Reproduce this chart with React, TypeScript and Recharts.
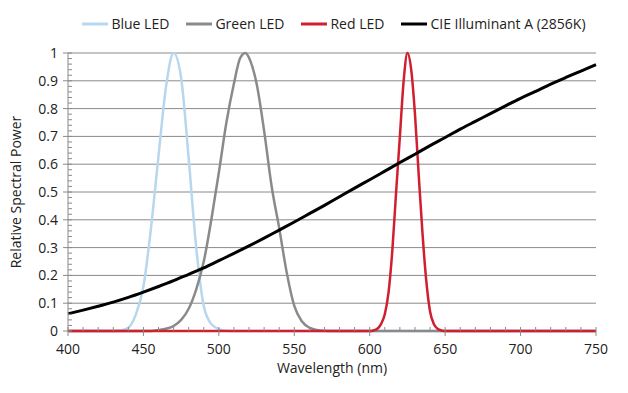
import React from 'react';
import { CartesianGrid, Legend, Line, LineChart, XAxis, YAxis } from 'recharts';

// wavelength (nm) -> relative power
const blueLed = [
  { wl: 400, v: 0 }, { wl: 430, v: 0 }, { wl: 435, v: 0.002 }, { wl: 440, v: 0.012 },
  { wl: 445, v: 0.06 }, { wl: 450, v: 0.16 }, { wl: 455, v: 0.37 }, { wl: 460, v: 0.63 },
  { wl: 465, v: 0.88 }, { wl: 470, v: 1.0 }, { wl: 475, v: 0.91 }, { wl: 480, v: 0.62 },
  { wl: 485, v: 0.3 }, { wl: 490, v: 0.09 }, { wl: 495, v: 0.025 }, { wl: 500, v: 0.007 },
  { wl: 505, v: 0.001 }, { wl: 510, v: 0 }, { wl: 750, v: 0 },
];

const greenLed = [
  { wl: 400, v: 0 }, { wl: 455, v: 0 }, { wl: 460, v: 0.003 }, { wl: 465, v: 0.008 },
  { wl: 470, v: 0.018 }, { wl: 475, v: 0.04 }, { wl: 480, v: 0.08 }, { wl: 485, v: 0.15 },
  { wl: 490, v: 0.25 }, { wl: 495, v: 0.4 }, { wl: 500, v: 0.57 }, { wl: 505, v: 0.75 },
  { wl: 510, v: 0.89 }, { wl: 514, v: 0.98 }, { wl: 517.5, v: 1.0 }, { wl: 521, v: 0.97 },
  { wl: 525, v: 0.89 }, { wl: 530, v: 0.72 }, { wl: 535, v: 0.52 }, { wl: 540, v: 0.37 },
  { wl: 545, v: 0.21 }, { wl: 550, v: 0.09 }, { wl: 555, v: 0.035 }, { wl: 560, v: 0.012 },
  { wl: 565, v: 0.004 }, { wl: 570, v: 0.001 }, { wl: 575, v: 0 }, { wl: 750, v: 0 },
];

const redLed = [
  { wl: 400, v: 0 }, { wl: 600, v: 0 }, { wl: 602.5, v: 0.002 }, { wl: 605, v: 0.008 },
  { wl: 607.5, v: 0.025 }, { wl: 610, v: 0.06 }, { wl: 612.5, v: 0.14 }, { wl: 615, v: 0.29 },
  { wl: 617.5, v: 0.5 }, { wl: 620, v: 0.7 }, { wl: 622.5, v: 0.9 }, { wl: 625, v: 1.0 },
  { wl: 627.5, v: 0.94 }, { wl: 630, v: 0.78 }, { wl: 632.5, v: 0.56 }, { wl: 635, v: 0.35 },
  { wl: 637.5, v: 0.18 }, { wl: 640, v: 0.07 }, { wl: 642.5, v: 0.025 }, { wl: 645, v: 0.008 },
  { wl: 647.5, v: 0.002 }, { wl: 650, v: 0 }, { wl: 750, v: 0 },
];

const cieA = [
  { wl: 400, v: 0.062 }, { wl: 410, v: 0.075 }, { wl: 420, v: 0.089 }, { wl: 430, v: 0.104 },
  { wl: 440, v: 0.121 }, { wl: 450, v: 0.14 }, { wl: 460, v: 0.16 }, { wl: 470, v: 0.181 },
  { wl: 480, v: 0.204 }, { wl: 490, v: 0.227 }, { wl: 500, v: 0.253 }, { wl: 510, v: 0.279 },
  { wl: 520, v: 0.306 }, { wl: 530, v: 0.334 }, { wl: 540, v: 0.363 }, { wl: 550, v: 0.392 },
  { wl: 560, v: 0.422 }, { wl: 570, v: 0.452 }, { wl: 580, v: 0.483 }, { wl: 590, v: 0.514 },
  { wl: 600, v: 0.544 }, { wl: 610, v: 0.575 }, { wl: 620, v: 0.606 }, { wl: 630, v: 0.636 },
  { wl: 640, v: 0.667 }, { wl: 650, v: 0.696 }, { wl: 660, v: 0.726 }, { wl: 670, v: 0.754 },
  { wl: 680, v: 0.782 }, { wl: 690, v: 0.81 }, { wl: 700, v: 0.837 }, { wl: 710, v: 0.862 },
  { wl: 720, v: 0.888 }, { wl: 730, v: 0.912 }, { wl: 740, v: 0.935 }, { wl: 750, v: 0.958 },
];

const xMajorTicks = [400, 450, 500, 550, 600, 650, 700, 750];
const yMajorTicks = [0, 0.1, 0.2, 0.3, 0.4, 0.5, 0.6, 0.7, 0.8, 0.9, 1];

const seriesNames = ['Blue LED', 'Green LED', 'Red LED', 'CIE Illuminant A (2856K)'];
const seriesColors = ['#b6d7ee', '#8a8a8a', '#d01f2f', '#000000'];

const FONT = '"Open Sans", sans-serif';
const AXIS = '#8a8a8a';
const TEXT = '#222222';

// minor ticks: 5 per major step
const subdivide = (major: number[]) => {
  const out: number[] = [];
  major.forEach((m, i) => {
    out.push(m);
    if (i < major.length - 1) {
      const step = (major[i + 1] - m) / 5;
      for (let k = 1; k < 5; k++) out.push(+(m + step * k).toFixed(4));
    }
  });
  return out;
};
const xTicks = subdivide(xMajorTicks);
const yTicks = subdivide(yMajorTicks);

const XTick = (props: any) => {
  const { x, y, payload } = props;
  const major = xMajorTicks.includes(payload.value);
  return (
    <g>
      <line x1={x} x2={x} y1={y} y2={y - 4} stroke={AXIS} />
      {major && <line x1={x} x2={x} y1={y} y2={y + 5} stroke={AXIS} />}
      {major && (
        <text x={x} y={y + 23} textAnchor='middle' fill={TEXT} fontSize={14} fontFamily={FONT}>
          {payload.value}
        </text>
      )}
    </g>
  );
};

const YTick = (props: any) => {
  const { x, y, payload } = props;
  const major = yMajorTicks.some(t => Math.abs(t - payload.value) < 1e-6);
  return (
    <g>
      <line x1={x} x2={x + 4} y1={y} y2={y} stroke={AXIS} />
      {major && <line x1={x} x2={x - 5} y1={y} y2={y} stroke={AXIS} />}
      {major && (
        <text x={x - 10} y={y + 5} textAnchor='end' fill={TEXT} fontSize={14} fontFamily={FONT}>
          {payload.value}
        </text>
      )}
    </g>
  );
};

const LegendRow = () => (
  <div style={{ display: 'flex', justifyContent: 'center', gap: 17, fontFamily: FONT, fontSize: 14, color: TEXT }}>
    {seriesNames.map((name, i) => (
      <div key={name} style={{ display: 'flex', alignItems: 'center', gap: 3 }}>
        <svg width={26} height={6}>
          <line x1={0} x2={26} y1={3} y2={3} stroke={seriesColors[i]} strokeWidth={3} />
        </svg>
        <span>{name}</span>
      </div>
    ))}
  </div>
);

const seriesData = [blueLed, greenLed, redLed, cieA];

export default function App() {
  return (
    <div style={{ position: 'absolute', left: 0, top: 0, background: '#fff' }}>
      <LineChart width={628} height={393} margin={{ top: 34, right: 32, bottom: 0, left: 8 }}>
        <CartesianGrid stroke={AXIS} vertical={false} horizontalValues={yMajorTicks} />
        <XAxis
          type='number'
          dataKey='wl'
          domain={[400, 750]}
          ticks={xTicks}
          interval={0}
          tick={<XTick />}
          tickLine={false}
          axisLine={false}
          tickSize={0}
          tickMargin={0}
          height={62}
          label={{ value: 'Wavelength (nm)', position: 'insideBottom', offset: 20, fill: TEXT, fontSize: 14, fontFamily: FONT }}
        />
        <YAxis
          type='number'
          dataKey='v'
          domain={[0, 1]}
          ticks={yTicks}
          interval={0}
          tick={<YTick />}
          tickLine={false}
          tickSize={0}
          tickMargin={0}
          stroke={AXIS}
          width={60}
          label={{ value: 'Relative Spectral Power', angle: -90, position: 'insideLeft', offset: 8, fill: TEXT, fontSize: 14, fontFamily: FONT, style: { textAnchor: 'middle' } }}
        />
        <Legend verticalAlign='top' wrapperStyle={{ top: 14, left: 20, width: 628 }} content={<LegendRow />} />
        {seriesData.map((d, i) => (
          <Line
            key={seriesNames[i]}
            data={d}
            dataKey='v'
            name={seriesNames[i]}
            type='monotone'
            stroke={seriesColors[i]}
            strokeWidth={i === 3 ? 3 : 2.5}
            dot={false}
            activeDot={false}
            isAnimationActive={false}
          />
        ))}
      </LineChart>
    </div>
  );
}
